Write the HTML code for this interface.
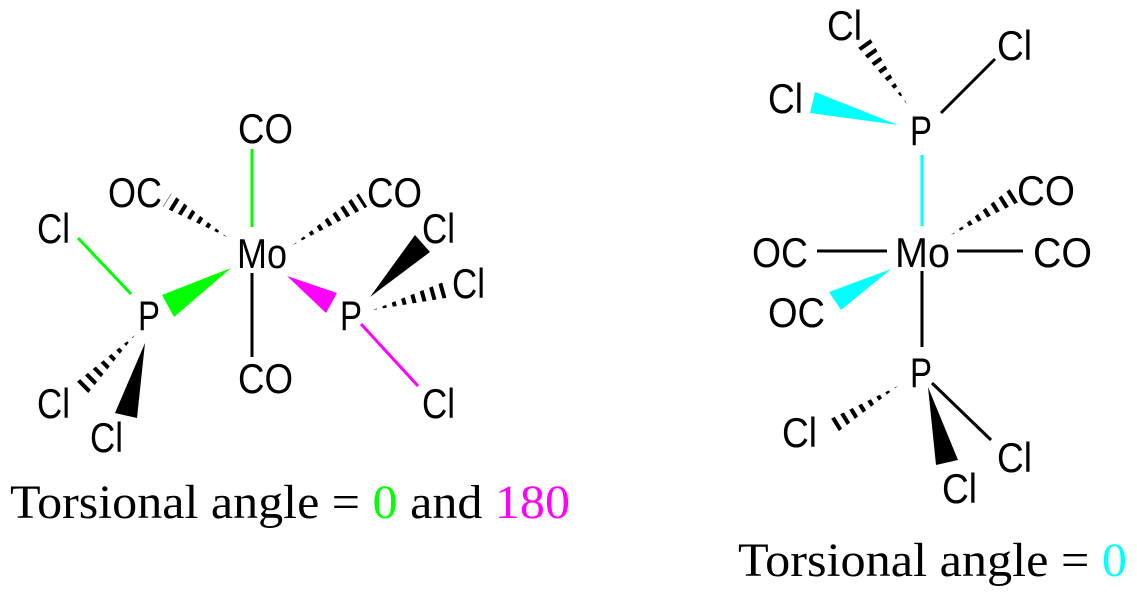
<!DOCTYPE html>
<html><head><meta charset="utf-8"><style>
html,body{margin:0;padding:0;background:#fff;}
svg{display:block;}
text{font-family:"Liberation Sans",Arial,sans-serif;font-size:42px;fill:#000;}
.cap{font-family:"Liberation Serif","Times New Roman",serif;font-size:48px;}
</style></head><body>
<svg width="1137" height="595" viewBox="0 0 1137 595" xmlns="http://www.w3.org/2000/svg">
<defs>
<clipPath id="c1"><polygon points="227,237 171.2,193.2 162.8,206.8"/></clipPath>
<clipPath id="c2"><polygon points="293,245 367.3,206.7 358.7,193.3"/></clipPath>
<clipPath id="c3"><polygon points="373,310 447.1,297.7 442.9,282.3"/></clipPath>
<clipPath id="c4"><polygon points="135,335 87.7,393.7 76.3,382.3"/></clipPath>
<clipPath id="c5"><polygon points="907,104 868.5,35.4 855.5,44.6"/></clipPath>
<clipPath id="c6"><polygon points="951,235 1019.2,201.8 1010.8,188.2"/></clipPath>
<clipPath id="c7"><polygon points="898,386 834.2,434.8 825.8,421.2"/></clipPath>
</defs>
<g stroke="#000" stroke-width="18" stroke-dasharray="4 6">
<line x1="227" y1="237" x2="167" y2="200" clip-path="url(#c1)"/>
<line x1="293" y1="245" x2="363" y2="200" clip-path="url(#c2)"/>
<line x1="373" y1="310" x2="445" y2="290" clip-path="url(#c3)"/>
<line x1="135" y1="335" x2="82" y2="388" clip-path="url(#c4)"/>
<line x1="907" y1="104" x2="862" y2="40" clip-path="url(#c5)"/>
<line x1="951" y1="235" x2="1015" y2="195" clip-path="url(#c6)"/>
<line x1="898" y1="386" x2="830" y2="428" clip-path="url(#c7)"/>
</g>
<g stroke-width="3">
<line x1="252" y1="149" x2="252" y2="227" stroke="#00ff00"/>
<line x1="252" y1="273" x2="252" y2="357" stroke="#000"/>
<line x1="78" y1="238" x2="131" y2="294" stroke="#00ff00"/>
<line x1="361" y1="324" x2="418" y2="386" stroke="#ff00ff"/>
</g>
<polygon points="231,268 162,295 174,317" fill="#00ff00"/>
<polygon points="287,276 337,293 326,313" fill="#ff00ff"/>
<polygon points="370,297 415,235 430,252" fill="#000"/>
<polygon points="145,343 115,413 137,418" fill="#000"/>
<g stroke-width="3">
<line x1="941" y1="113" x2="995" y2="59" stroke="#000"/>
<line x1="922" y1="155" x2="922" y2="226" stroke="#00ffff"/>
<line x1="817" y1="251" x2="887" y2="251" stroke="#000"/>
<line x1="957" y1="251" x2="1023" y2="251" stroke="#000"/>
<line x1="922" y1="271" x2="922" y2="347" stroke="#000"/>
<line x1="932" y1="383" x2="991" y2="440" stroke="#000"/>
</g>
<polygon points="898,125 815,92 810,113" fill="#00ffff"/>
<polygon points="891,269 829,292 841,310" fill="#00ffff"/>
<polygon points="928,387 936,465 958,460" fill="#000"/>
<text x="238" y="143" textLength="55" lengthAdjust="spacingAndGlyphs">CO</text>
<text x="108" y="207" textLength="54" lengthAdjust="spacingAndGlyphs">OC</text>
<text x="367" y="207" textLength="55" lengthAdjust="spacingAndGlyphs">CO</text>
<text x="37" y="243" textLength="33" lengthAdjust="spacingAndGlyphs">Cl</text>
<text x="237" y="268" textLength="50" lengthAdjust="spacingAndGlyphs">Mo</text>
<text x="422" y="243" textLength="33" lengthAdjust="spacingAndGlyphs">Cl</text>
<text x="452" y="298" textLength="33" lengthAdjust="spacingAndGlyphs">Cl</text>
<text x="138" y="330" textLength="22" lengthAdjust="spacingAndGlyphs">P</text>
<text x="340" y="330" textLength="22" lengthAdjust="spacingAndGlyphs">P</text>
<text x="238" y="393" textLength="55" lengthAdjust="spacingAndGlyphs">CO</text>
<text x="37" y="418" textLength="33" lengthAdjust="spacingAndGlyphs">Cl</text>
<text x="90" y="452" textLength="33" lengthAdjust="spacingAndGlyphs">Cl</text>
<text x="422" y="418" textLength="33" lengthAdjust="spacingAndGlyphs">Cl</text>
<text x="827" y="40" textLength="35" lengthAdjust="spacingAndGlyphs">Cl</text>
<text x="997" y="60" textLength="35" lengthAdjust="spacingAndGlyphs">Cl</text>
<text x="768" y="113" textLength="35" lengthAdjust="spacingAndGlyphs">Cl</text>
<text x="910" y="145" textLength="22" lengthAdjust="spacingAndGlyphs">P</text>
<text x="1017" y="205" textLength="58" lengthAdjust="spacingAndGlyphs">CO</text>
<text x="752" y="267" textLength="56" lengthAdjust="spacingAndGlyphs">OC</text>
<text x="895" y="267" textLength="55" lengthAdjust="spacingAndGlyphs">Mo</text>
<text x="1033" y="267" textLength="59" lengthAdjust="spacingAndGlyphs">CO</text>
<text x="768" y="327" textLength="57" lengthAdjust="spacingAndGlyphs">OC</text>
<text x="910" y="387" textLength="22" lengthAdjust="spacingAndGlyphs">P</text>
<text x="782" y="447" textLength="35" lengthAdjust="spacingAndGlyphs">Cl</text>
<text x="997" y="472" textLength="35" lengthAdjust="spacingAndGlyphs">Cl</text>
<text x="942" y="503" textLength="35" lengthAdjust="spacingAndGlyphs">Cl</text>
<text class="cap" x="10" y="518" textLength="560" lengthAdjust="spacingAndGlyphs">Torsional angle = <tspan fill="#00ff00">0</tspan> and <tspan fill="#ff00ff">180</tspan></text>
<text class="cap" x="738" y="576" textLength="389" lengthAdjust="spacingAndGlyphs">Torsional angle = <tspan fill="#00ffff">0</tspan></text>
</svg>
</body></html>
